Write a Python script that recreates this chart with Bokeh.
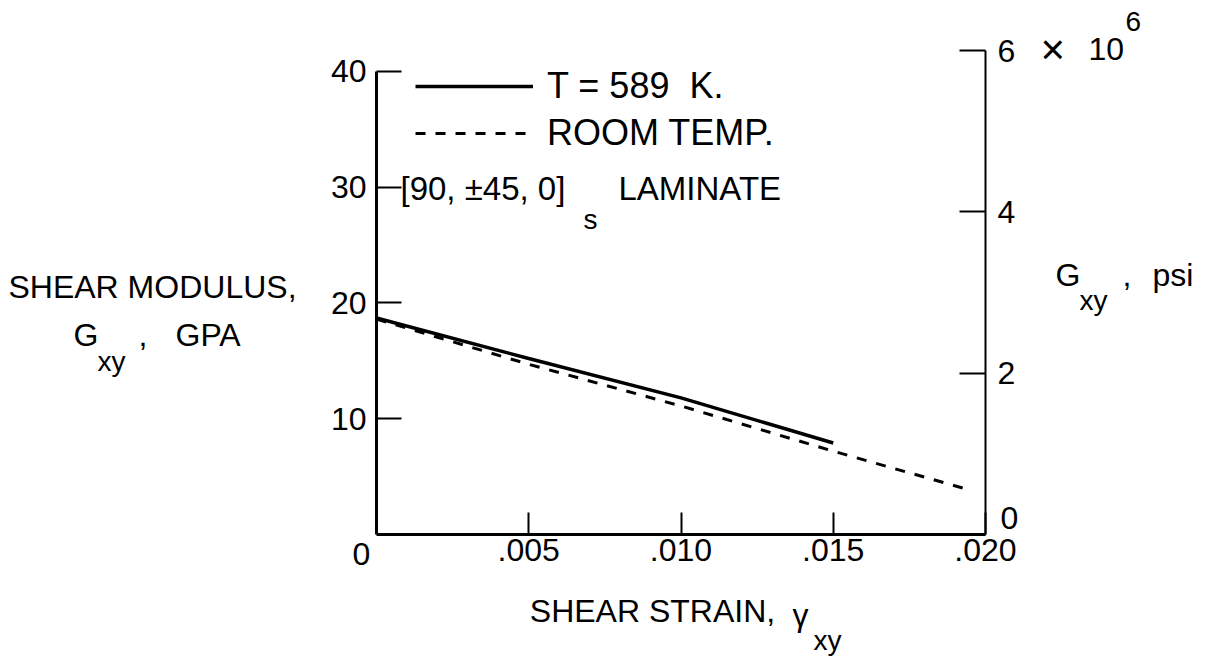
from bokeh.plotting import figure
from bokeh.models import (Range1d, LinearAxis, FixedTicker, CustomJSTickFormatter,
                          Label, Legend, LegendItem)
from bokeh.embed import file_html
from bokeh.resources import INLINE

# ---- data ----
strain_589 = [0.0, 0.005, 0.010, 0.015]
modulus_589 = [18.7, 15.2, 11.8, 7.9]
strain_room = [0.0, 0.005, 0.010, 0.015, 0.0194]
modulus_room = [18.6, 14.7, 11.1, 7.2, 3.9]
x_ticks = [0.005, 0.010, 0.015, 0.020]
gpa_ticks = [10, 20, 30, 40]
psi_ticks = [0, 2, 4, 6]

FONT = "Liberation Sans"
W, H = 1207, 658
# layout: where the axes sit on the canvas (pixels)
AX_L, AX_R, AX_B, AX_T = 376, 985, 534, 50
X0, X1 = 0.0, 0.020          # strain at AX_L / AX_R
G0, G1 = 0.0, 41.8           # GPa at AX_B / AX_T
P0, P1 = 0.0, 6.0            # 10^6 psi at AX_B / AX_T

sx = (X1 - X0) / (AX_R - AX_L)
sg = (G1 - G0) / (AX_B - AX_T)
sp = (P1 - P0) / (AX_B - AX_T)

p = figure(width=W, height=H,
           x_range=Range1d(X0 - AX_L * sx, X0 + (W - AX_L) * sx),
           y_range=Range1d(G0 - (H - AX_B) * sg, G0 + AX_B * sg),
           output_backend="svg", toolbar_location=None, min_border=0,
           x_axis_type=None, y_axis_type=None)
p.outline_line_color = None
p.extra_y_ranges = {"psi": Range1d(P0 - (H - AX_B) * sp, P0 + AX_B * sp)}


def style_axis(ax, lw, tick_in, standoff, size="32px"):
    ax.axis_line_width = lw
    ax.axis_line_color = "black"
    ax.major_tick_in = tick_in
    ax.major_tick_out = 0
    ax.major_tick_line_width = 2
    ax.major_tick_line_color = "black"
    ax.minor_tick_line_color = None
    ax.major_label_text_font = FONT
    ax.major_label_text_font_size = size
    ax.major_label_text_color = "black"
    ax.major_label_standoff = standoff


xaxis = LinearAxis(ticker=FixedTicker(ticks=x_ticks), fixed_location=G0, bounds=(X0, X1),
                   formatter=CustomJSTickFormatter(code="return tick.toFixed(3).replace(/^0/, '');"))
style_axis(xaxis, 3, 22, 4)
p.add_layout(xaxis, "below")

yaxis = LinearAxis(ticker=FixedTicker(ticks=gpa_ticks), fixed_location=X0, bounds=(0, 40))
style_axis(yaxis, 3, 25, 10)
p.add_layout(yaxis, "left")

raxis = LinearAxis(y_range_name="psi", ticker=FixedTicker(ticks=psi_ticks), fixed_location=X1,
                   bounds=(P0, P1),
                   formatter=CustomJSTickFormatter(code="return tick == 0 ? '' : tick.toFixed(0);"))
style_axis(raxis, 2, 26, 12)
p.add_layout(raxis, "right")

r1 = p.line(strain_589, modulus_589, line_width=3.5, line_color="black")
r2 = p.line(strain_room, modulus_room, line_width=3, line_color="black", line_dash="10 10")

legend = Legend(items=[LegendItem(label="T = 589  K.", renderers=[r1]),
                       LegendItem(label="ROOM TEMP.", renderers=[r2])],
                location=(415, H - 155), glyph_width=118, glyph_height=44, label_height=44,
                spacing=3, label_standoff=14, padding=0, margin=0,
                border_line_alpha=0, background_fill_alpha=0,
                label_text_font=FONT, label_text_font_size="36px", label_text_color="black")
p.add_layout(legend)


# text positions (canvas pixels) -> data coordinates for the annotations
def fx(X):
    return X0 + (X - AX_L) * sx


def fy(Y):
    return G0 + (AX_B - Y) * sg


def txt(s, X, Y, size="32px", align="left"):
    p.add_layout(Label(x=fx(X), y=fy(Y), text=s, text_font=FONT, text_font_size=size,
                       text_align=align, text_baseline="middle", text_color="black"))


# left title
txt("SHEAR MODULUS,", 152, 286, "32px", "center")
txt("G", 73, 334)
txt("xy", 97, 361, "28px")
txt(",", 138, 334)
txt("GPA", 175, 334)

# right title
txt("G", 1055, 274)
txt("xy", 1079, 300, "28px")
txt(",", 1122, 274)
txt("psi", 1152, 274)

# multiplier on right axis
txt("\u00d7", 1040, 49, "42px")
txt("10", 1088, 48)
txt("6", 1125, 21, "28px")
txt("0", 1000, 517)

# x axis zero and title
txt("0", 361, 553, "32px", "center")
txt("SHEAR STRAIN,", 652, 610, "32px", "center")
txt("\u03b3", 792, 614)
txt("xy", 813, 640, "28px")

# laminate annotation
txt("[90, \u00b145, 0]", 400, 188, "33px")
txt("s", 583, 219, "28px")
txt("LAMINATE", 618, 188, "33px")

open("out.html", "w").write(file_html(p, INLINE))
